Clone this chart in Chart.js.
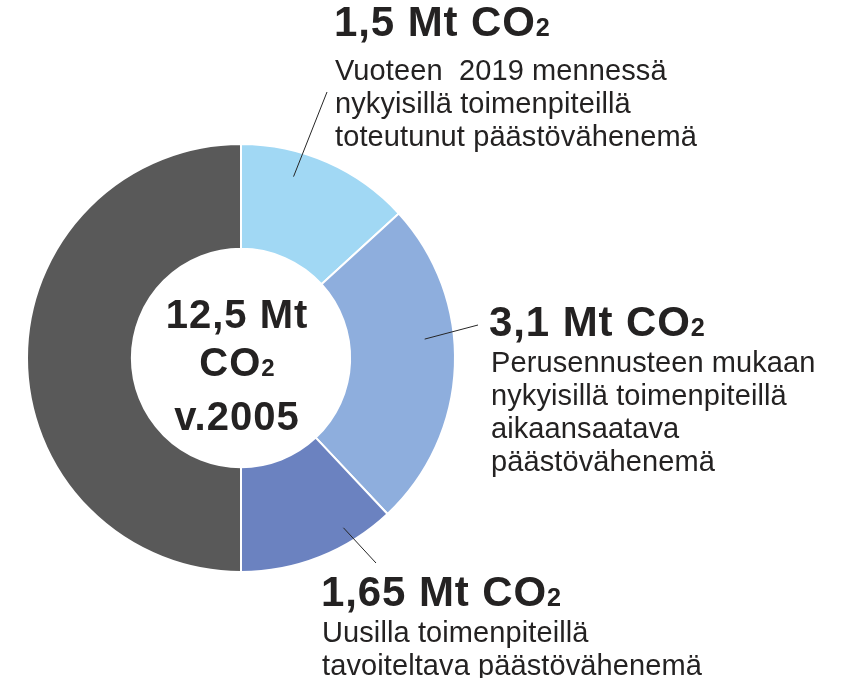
<!DOCTYPE html>
<html>
<head>
<meta charset="utf-8">
<script src="https://cdn.jsdelivr.net/npm/chart.js@4"></script>
<style>
  html, body { margin: 0; padding: 0; background: #fff; }
  #wrap { position: relative; width: 844px; height: 678px; overflow: hidden; }
  #chart { position: absolute; left: 0; top: 0; }
  .lbl { position: absolute; color: #242222; font-family: "Liberation Sans", Arial, sans-serif; white-space: nowrap; }
  .head { font-size: 42px; font-weight: bold; line-height: 40px; letter-spacing: 0.9px; }
  .body { font-size: 29px; line-height: 33px; letter-spacing: 0.1px; }
  .sub { font-size: 0.6em; letter-spacing: 0; }
  .center { font-size: 40px; font-weight: bold; line-height: 48px; text-align: center; letter-spacing: 1px; }
</style>
</head>
<body>
<div id="wrap">
  <canvas id="chart" width="844" height="678"></canvas>
</div>
<script>
// --- Data (Mt CO2), clockwise from 12 o'clock
const sliceNames = ['Toteutunut', 'Perusennuste', 'Uudet toimenpiteet', 'Jäljelle jäävä'];
const sliceValues = [1.65, 3.1, 1.5, 6.25];
const sliceColors = ['#a1d8f4', '#8eaedd', '#6b82c0', '#595959'];

// label texts (as printed)
const headTexts = ['1,5 Mt CO', '3,1 Mt CO', '1,65 Mt CO'];
const bodyTexts = [
  ['Vuoteen\u00a0 2019 mennessä', 'nykyisillä toimenpiteillä', 'toteutunut päästövähenemä'],
  ['Perusennusteen mukaan', 'nykyisillä toimenpiteillä', 'aikaansaatava', 'päästövähenemä'],
  ['Uusilla toimenpiteillä', 'tavoiteltava päästövähenemä']
];
const centerLines = ['12,5 Mt', 'CO', 'v.2005'];

// where each label block sits, and which slice it points to
const labelBoxes = [
  { slice: 0, headX: 334, headY: 2,   bodyX: 335, bodyY: 54,  tipX: 327, tipY: 92,  at: 0.34, rr: 0.76 },
  { slice: 1, headX: 489, headY: 302, bodyX: 491, bodyY: 346, tipX: 478, tipY: 325, at: 0.41, rr: 0.72 },
  { slice: 2, headX: 321, headY: 572, bodyX: 322, bodyY: 616, tipX: 376, tipY: 563, at: 0.28, rr: 0.85 }
];

const wrap = document.getElementById('wrap');

function addDiv(cls, x, y, html) {
  let d = document.createElement('div');
  d.className = 'lbl ' + cls;
  d.style.left = x + 'px';
  d.style.top = y + 'px';
  d.innerHTML = html;
  wrap.appendChild(d);
  return d;
}

labelBoxes.forEach(function (b, i) {
  addDiv('head', b.headX, b.headY, headTexts[i] + '<span class="sub">2</span>');
  addDiv('body', b.bodyX, b.bodyY, bodyTexts[i].join('<br>'));
});

let c = addDiv('center', 137, 290, centerLines[0] + '<br>' + centerLines[1] + '<span class="sub">2</span><br>' + centerLines[2]);
c.style.width = '200px';

// leader lines from inside the slices to the label blocks
const leaderLines = {
  id: 'leaderLines',
  afterDraw(chart) {
    const ctx = chart.ctx;
    const arcs = chart.getDatasetMeta(0).data;
    ctx.save();
    ctx.strokeStyle = '#262626';
    ctx.lineWidth = 1;
    labelBoxes.forEach(function (b) {
      const a = arcs[b.slice];
      const ang = a.startAngle + (a.endAngle - a.startAngle) * b.at;
      const r = a.innerRadius + (a.outerRadius - a.innerRadius) * b.rr;
      ctx.beginPath();
      ctx.moveTo(a.x + r * Math.cos(ang), a.y + r * Math.sin(ang));
      ctx.lineTo(b.tipX, b.tipY);
      ctx.stroke();
    });
    ctx.restore();
  }
};

new Chart(document.getElementById('chart').getContext('2d'), {
  type: 'doughnut',
  data: {
    labels: sliceNames,
    datasets: [{
      data: sliceValues,
      backgroundColor: sliceColors,
      borderColor: '#ffffff',
      borderWidth: 2,
      hoverOffset: 0
    }]
  },
  options: {
    responsive: false,
    animation: false,
    events: [],
    radius: 214,
    cutout: '51%',
    layout: { padding: { left: 0, right: 362, top: 38, bottom: 0 } },
    plugins: {
      legend: { display: false },
      tooltip: { enabled: false }
    }
  },
  plugins: [leaderLines]
});
</script>
</body>
</html>
